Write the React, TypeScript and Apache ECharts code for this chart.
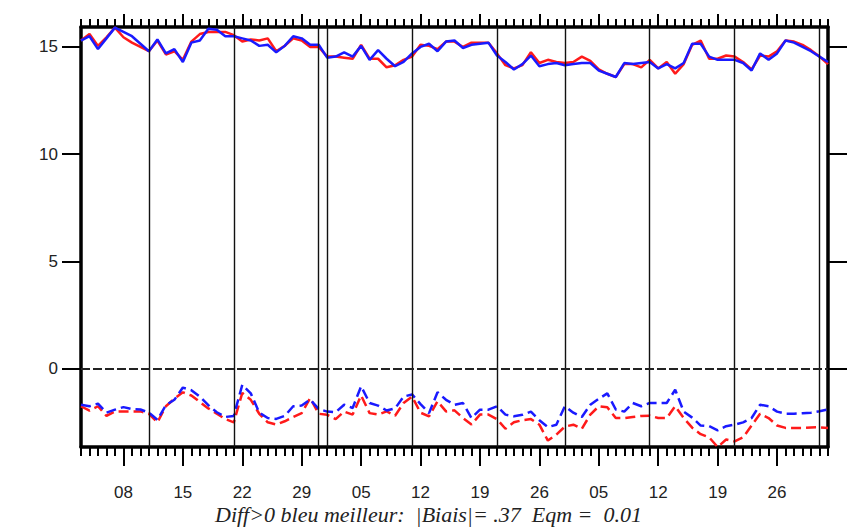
import React, { useEffect, useRef } from "react";
import * as echarts from "echarts";

// Day-of-year positions (Jan 3 .. Apr 1)
const firstDay = 3;
const lastDay = 91;
const days: number[] = Array.from({ length: lastDay - firstDay + 1 }, (_, i) => firstDay + i);

const majorTickDays = [8, 15, 22, 29, 36, 43, 50, 57, 64, 71, 78, 85];
const majorTickLabels = ["08", "15", "22", "29", "05", "12", "19", "26", "05", "12", "19", "26"];
const decadeLines = [11, 21, 31, 32, 42, 52, 60, 70, 80, 90];
const yTicks = [0, 5, 10, 15];

const blueTop = [
  15.3, 15.5, 14.9, 15.4, 15.9, 15.7, 15.5, 15.15, 14.8, 15.35,
  14.7, 14.9, 14.3, 15.2, 15.3, 15.85, 15.8, 15.5, 15.5, 15.4,
  15.3, 15.05, 15.1, 14.75, 15.05, 15.5, 15.4, 15.1, 15.1, 14.5,
  14.55, 14.75, 14.55, 15.05, 14.4, 14.85, 14.45, 14.1, 14.3, 14.7,
  15.0, 15.15, 14.8, 15.25, 15.3, 14.95, 15.1, 15.15, 15.2, 14.6,
  14.3, 13.95, 14.2, 14.6, 14.1, 14.2, 14.25, 14.15, 14.2, 14.25,
  14.25, 13.9, 13.75, 13.6, 14.25, 14.2, 14.25, 14.3, 14.0, 14.2,
  14.0, 14.25, 15.15, 15.15, 14.55, 14.4, 14.4, 14.4, 14.25, 13.9,
  14.7, 14.4, 14.7, 15.3, 15.2, 15.0, 14.8, 14.55, 14.3,
];

const redTop = [
  15.3, 15.6, 15.05, 15.45, 15.9, 15.45, 15.2, 15.0, 14.8, 15.3,
  14.65, 14.8, 14.4, 15.25, 15.6, 15.7, 15.7, 15.7, 15.55, 15.25,
  15.35, 15.3, 15.4, 14.8, 15.05, 15.4, 15.3, 15.0, 15.0, 14.55,
  14.55, 14.5, 14.45, 15.1, 14.45, 14.45, 14.05, 14.15, 14.4, 14.55,
  15.1, 15.05, 14.9, 15.25, 15.25, 15.0, 15.2, 15.2, 15.2, 14.7,
  14.15, 14.0, 14.15, 14.75, 14.25, 14.4, 14.3, 14.25, 14.3, 14.55,
  14.35, 13.95, 13.75, 13.6, 14.2, 14.2, 14.05, 14.4, 14.0, 14.3,
  13.75, 14.2, 15.1, 15.3, 14.45, 14.45, 14.6, 14.55, 14.3, 13.95,
  14.6, 14.55, 14.8, 15.3, 15.25, 15.1, 14.85, 14.55, 14.2,
];

const blueBottom = [
  -1.68, -1.75, -1.63, -2.05, -1.91, -1.79, -1.88, -1.9, -2.05, -2.38,
  -1.7, -1.45, -0.88, -1.0, -1.3, -1.7, -2.03, -2.25, -2.2, -0.75,
  -1.15, -2.05, -2.3, -2.34, -2.2, -1.75, -1.72, -1.44, -1.88, -2.0,
  -2.03, -1.68, -1.83, -0.82, -1.6, -1.72, -1.95, -1.85, -1.3, -1.2,
  -1.65, -2.07, -1.1, -1.45, -1.68, -1.6, -2.3, -1.91, -1.91, -1.75,
  -2.14, -2.22, -2.15, -2.0, -2.4, -2.72, -2.61, -1.75, -2.05, -2.25,
  -1.68, -1.4, -1.15, -1.9, -2.0, -1.6, -1.75, -1.6, -1.6, -1.6,
  -0.98, -2.0, -2.28, -2.65, -2.68, -2.87, -2.68, -2.61, -2.5, -2.3,
  -1.68, -1.75, -2.0, -2.1, -2.1, -2.08, -2.05, -1.98, -1.9,
];

const redBottom = [
  -1.75, -1.95, -1.75, -2.2, -2.0, -1.99, -1.99, -1.99, -2.1, -2.5,
  -1.75, -1.4, -1.1, -1.25, -1.55, -1.85, -2.1, -2.35, -2.5, -1.13,
  -1.45, -2.1, -2.5, -2.6, -2.45, -2.25, -2.07, -1.37, -2.1, -2.15,
  -2.35, -2.0, -2.14, -1.25, -2.07, -2.14, -1.99, -2.19, -1.6, -1.3,
  -2.05, -2.22, -1.52, -1.99, -1.94, -2.3, -2.6, -2.14, -2.14, -2.35,
  -2.8, -2.5, -2.4, -2.35, -2.61, -3.35, -3.07, -2.7, -2.61, -2.8,
  -2.14, -1.75, -1.8, -2.3, -2.3, -2.25, -2.2, -2.19, -2.3, -2.3,
  -1.75, -2.3, -2.75, -3.05, -3.2, -3.65, -3.3, -3.39, -3.2, -2.65,
  -2.1, -2.3, -2.65, -2.76, -2.76, -2.76, -2.74, -2.73, -2.76,
];

const titleText = "Diff>0 bleu meilleur:  |Biais|= .37  Eqm =  0.01";

const yMin = -3.65;
const yMax = 15.93;

export default function App() {
  const ref = useRef<HTMLDivElement>(null);
  useEffect(() => {
    if (!ref.current) return;
    const chart = echarts.init(ref.current, null, { renderer: "svg" });
    const pair = (vals: number[]) => days.map((d, i) => [d, vals[i]]);
    const labelFont = { fontFamily: "Liberation Sans", fontSize: 17, lineHeight: 17, color: "#222" };
    const baseX = {
      type: "value" as const,
      min: firstDay,
      max: lastDay,
      splitLine: { show: false },
    };
    const baseY = {
      type: "value" as const,
      min: yMin,
      max: yMax,
      splitLine: { show: false },
    };
    chart.setOption({
      animation: false,
      backgroundColor: "#fff",
      title: {
        text: titleText,
        left: 215,
        top: 503,
        padding: 0,
        textStyle: {
          fontFamily: "Liberation Serif",
          fontStyle: "italic",
          fontWeight: "normal",
          fontSize: 22,
          lineHeight: 22,
          color: "#222",
        },
      },
      grid: { left: 81, right: 24, top: 27, bottom: 80, containLabel: false },
      xAxis: [
        {
          ...baseX,
          position: "bottom",
          interval: 1,
          axisLine: { show: true, onZero: false, lineStyle: { color: "#000", width: 3.5 } },
          axisTick: { show: true, inside: false, length: 9, lineStyle: { color: "#000", width: 2 } },
          axisLabel: { show: false },
        },
        {
          ...baseX,
          position: "bottom",
          axisLine: { show: false, onZero: false },
          axisTick: { show: true, inside: false, length: 19, customValues: majorTickDays, lineStyle: { color: "#000", width: 2 } },
          axisLabel: {
            show: true,
            customValues: majorTickDays,
            margin: 37,
            ...labelFont,
            formatter: (v: number) => {
              const idx = majorTickDays.indexOf(Math.round(v));
              return idx >= 0 ? majorTickLabels[idx] : "";
            },
          },
        },
        {
          ...baseX,
          position: "top",
          interval: 1,
          axisLine: { show: true, onZero: false, lineStyle: { color: "#000", width: 3.5 } },
          axisTick: { show: true, inside: false, length: 8, lineStyle: { color: "#000", width: 2 } },
          axisLabel: { show: false },
        },
        {
          ...baseX,
          position: "top",
          axisLine: { show: false, onZero: false },
          axisTick: { show: true, inside: false, length: 13, customValues: majorTickDays, lineStyle: { color: "#000", width: 2 } },
          axisLabel: { show: false },
        },
      ],
      yAxis: [
        {
          ...baseY,
          position: "left",
          axisLine: { show: true, onZero: false, lineStyle: { color: "#000", width: 3.5 } },
          axisTick: { show: true, inside: false, length: 19, customValues: yTicks, lineStyle: { color: "#000", width: 2 } },
          axisLabel: { show: true, customValues: yTicks, margin: 23, ...labelFont },
        },
        {
          ...baseY,
          position: "right",
          axisLine: { show: true, onZero: false, lineStyle: { color: "#000", width: 3.5 } },
          axisTick: { show: true, inside: false, length: 19, customValues: yTicks, lineStyle: { color: "#000", width: 2 } },
          axisLabel: { show: false },
        },
      ],
      series: [
        {
          type: "line",
          name: "redTop",
          data: pair(redTop),
          showSymbol: false,
          symbol: "none",
          lineStyle: { color: "#ff1a1a", width: 2.5 },
          z: 3,
          markLine: {
            silent: true,
            symbol: ["none", "none"],
            label: { show: false },
            animation: false,
            data: [
              ...decadeLines.map((d) => ({ xAxis: d, lineStyle: { color: "#111", width: 1.4, type: "solid" } })),
              { yAxis: 0, lineStyle: { color: "#222", width: 2, type: [9, 3] } },
            ],
          },
        },
        {
          type: "line",
          name: "blueTop",
          data: pair(blueTop),
          showSymbol: false,
          symbol: "none",
          lineStyle: { color: "#1a1aff", width: 2.5 },
          z: 4,
        },
        {
          type: "line",
          name: "redBottom",
          data: pair(redBottom),
          showSymbol: false,
          symbol: "none",
          lineStyle: { color: "#ff1a1a", width: 2.5, type: [10, 5] },
          z: 3,
        },
        {
          type: "line",
          name: "blueBottom",
          data: pair(blueBottom),
          showSymbol: false,
          symbol: "none",
          lineStyle: { color: "#1a1aff", width: 2.5, type: [10, 5] },
          z: 4,
        },
      ],
    });
    return () => chart.dispose();
  }, []);
  return (
    <div
      ref={ref}
      style={{ position: "fixed", left: 0, top: 0, width: 852, height: 527, background: "#fff" }}
    />
  );
}
